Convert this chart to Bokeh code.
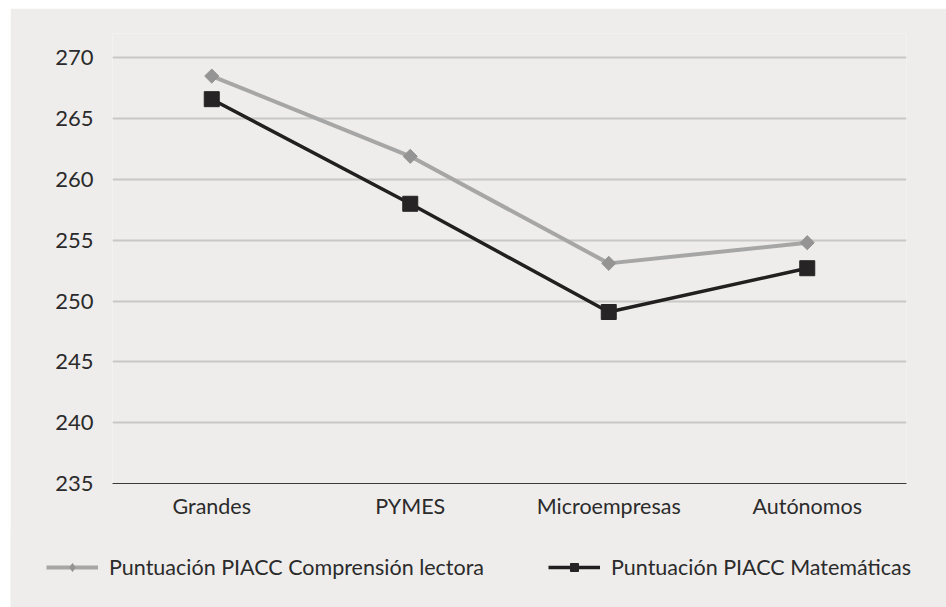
import math
from bokeh.plotting import figure
from bokeh.models import ColumnDataSource, FactorRange, Range1d, Legend, LegendItem, FixedTicker
from bokeh.embed import file_html
from bokeh.resources import INLINE

categories = ["Grandes", "PYMES", "Microempresas", "Autónomos"]
lectora = [268.5, 261.9, 253.1, 254.8]
matematicas = [266.6, 258.0, 249.1, 252.7]
y_ticks = [235, 240, 245, 250, 255, 260, 265, 270]
label_lectora = "Puntuación PIACC Comprensión lectora"
label_mat = "Puntuación PIACC Matemáticas"

BG = "#eeedeb"
FONT = "Lato"
GRAY_LINE = "#a6a6a6"
GRAY_MARK = "#949494"
DARK = "#231f20"

src = ColumnDataSource(dict(cat=categories, lec=lectora, mat=matematicas))


def add_series(fig, legend_style=False):
    r1 = fig.line("cat", "lec", source=src, line_color=GRAY_LINE, line_width=4)
    if legend_style:
        r2 = fig.scatter("cat", "lec", source=src, marker="diamond", size=14,
                         fill_color=GRAY_MARK, line_color=GRAY_MARK)
    else:
        r2 = fig.scatter("cat", "lec", source=src, marker="square", angle=math.pi / 4, size=10,
                         fill_color=GRAY_MARK, line_color=GRAY_MARK)
    r3 = fig.line("cat", "mat", source=src, line_color=DARK, line_width=3.5)
    r4 = fig.scatter("cat", "mat", source=src, marker="square", size=15, fill_color="#262425",
                     line_color="#262425")
    return r1, r2, r3, r4


# main chart
p = figure(width=936, height=523, x_range=FactorRange(*categories, range_padding=0),
           y_range=Range1d(235, 272), output_backend="svg", toolbar_location=None,
           min_border_left=102, min_border_right=40, min_border_top=25, min_border_bottom=48)
p.margin = (8, 0, 0, 10)
p.background_fill_color = BG
p.border_fill_color = BG
p.outline_line_color = None

add_series(p)

p.xgrid.grid_line_color = None
p.ygrid.grid_line_color = "#c9c8c6"
p.ygrid.grid_line_width = 2
p.ygrid.ticker = FixedTicker(ticks=y_ticks[1:])

p.yaxis.ticker = FixedTicker(ticks=y_ticks)
p.yaxis.axis_line_color = None
p.yaxis.major_tick_line_color = None
p.yaxis.minor_tick_line_color = None
p.yaxis.major_label_text_font = FONT
p.yaxis.major_label_text_font_size = "22px"
p.yaxis.major_label_text_color = "#2b2b2b"
p.yaxis.major_label_standoff = 13

p.xaxis.axis_line_color = "#3a3a3a"
p.xaxis.axis_line_width = 1.2
p.xaxis.major_tick_line_color = None
p.xaxis.minor_tick_line_color = None
p.xaxis.major_label_text_font = FONT
p.xaxis.major_label_text_font_size = "21.5px"
p.xaxis.major_label_text_color = "#2b2b2b"
p.xaxis.major_label_standoff = 3

# legend strip (series drawn out of view, only the legend shows)
q = figure(width=936, height=78, x_range=FactorRange(*categories), y_range=Range1d(0, 1),
           x_axis_type=None, y_axis_type=None, output_backend="svg", toolbar_location=None,
           min_border_left=0, min_border_right=0, min_border_top=0, min_border_bottom=0)
q.margin = (-2, 0, 0, 10)
q.background_fill_color = BG
q.border_fill_color = BG
q.outline_line_color = None
q.grid.visible = False
a1, a2, a3, a4 = add_series(q, legend_style=True)

legend = Legend(items=[LegendItem(label=label_lectora, renderers=[a1, a2]),
                       LegendItem(label=label_mat, renderers=[a3, a4])],
                orientation="horizontal", location=(36, 27))
legend.background_fill_alpha = 0
legend.border_line_color = None
legend.padding = 0
legend.margin = 0
legend.spacing = 64
legend.glyph_width = 52
legend.glyph_height = 20
legend.label_standoff = 11
legend.label_text_font = FONT
legend.label_text_font_size = "21.5px"
legend.label_text_color = "#2b2b2b"
q.add_layout(legend, "center")

open("out.html", "w").write(file_html([p, q], INLINE))
